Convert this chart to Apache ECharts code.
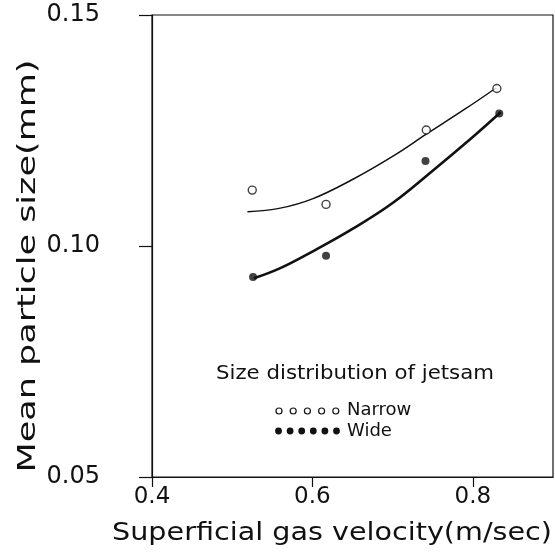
<!DOCTYPE html>
<html>
<head>
<meta charset="utf-8">
<script src="https://cdn.jsdelivr.net/npm/echarts@6/dist/echarts.min.js"></script>
<style>
html, body { margin: 0; padding: 0; background: #fff; }
#chart { width: 555px; height: 553px; }
</style>
</head>
<body>
<div id="chart"></div>
<script>
// tick values
var xTicks = [0.4, 0.6, 0.8];
var yTicks = [0.05, 0.10, 0.15];

// measured points
var narrowX = [0.525, 0.617, 0.742, 0.830];
var narrowY = [0.1121, 0.1090, 0.1251, 0.1341];
var wideX = [0.526, 0.617, 0.741, 0.833];
var wideY = [0.0933, 0.0979, 0.1184, 0.1287];

// fitted curves
var narrowFitX = [0.519, 0.56, 0.60, 0.65, 0.70, 0.742, 0.79, 0.829];
var narrowFitY = [0.1074, 0.1082, 0.1102, 0.1144, 0.1194, 0.1242, 0.1296, 0.1342];
var wideFitX = [0.527, 0.56, 0.60, 0.65, 0.70, 0.75, 0.80, 0.835];
var wideFitY = [0.0930, 0.0952, 0.0988, 0.1037, 0.1093, 0.1163, 0.1236, 0.1290];

var legendTitle = 'Size distribution of jetsam';
var seriesNames = ['Narrow', 'Wide'];

var FONT = 'DejaVu Sans';
var INK = '#111';

function pairs(xs, ys) {
    var out = [];
    for (var i = 0; i < xs.length; i++) {
        out.push([xs[i], ys[i]]);
    }
    return out;
}

// legend decoration: row of small circles before each label
var legendMarks = [];
for (var i = 0; i < 5; i++) {
    legendMarks.push({
        type: 'circle',
        shape: { cx: 279 + i * 14.2, cy: 411, r: 3 },
        style: { fill: '#fff', stroke: INK, lineWidth: 1.2 }
    });
}
for (var j = 0; j < 6; j++) {
    legendMarks.push({
        type: 'circle',
        shape: { cx: 278.5 + j * 11.6, cy: 431, r: 3.4 },
        style: { fill: INK }
    });
}

var mychart = echarts.init(document.getElementById('chart'));
var option = {
    animation: false,
    backgroundColor: '#fff',
    grid: {
        left: 152,
        right: 2,
        top: 15,
        bottom: 76,
        show: true,
        borderColor: INK,
        borderWidth: 1.2
    },
    xAxis: {
        type: 'value',
        min: 0.4,
        max: 0.9,
        axisLine: { show: true, lineStyle: { color: INK, width: 1.2 } },
        axisTick: { show: true, customValues: xTicks, length: 10, lineStyle: { color: INK, width: 1.2 } },
        axisLabel: {
            customValues: xTicks,
            formatter: function (v) { return v.toFixed(1); },
            fontFamily: FONT,
            fontSize: 23,
            color: INK,
            margin: 9
        },
        splitLine: { show: false }
    },
    yAxis: {
        type: 'value',
        min: 0.05,
        max: 0.15,
        interval: 0.05,
        axisLine: { show: true, lineStyle: { color: INK, width: 1.2 } },
        axisTick: { show: true, length: 13, lineStyle: { color: INK, width: 1.2 } },
        axisLabel: {
            formatter: function (v) { return v.toFixed(2); },
            fontFamily: FONT,
            fontSize: 24,
            color: INK,
            margin: 52
        },
        splitLine: { show: false }
    },
    graphic: [
        {
            type: 'text',
            x: 332,
            y: 533,
            scaleX: 1.145,
            style: {
                text: 'Superficial gas velocity(m/sec)',
                font: '25px "' + FONT + '"',
                fill: INK,
                textAlign: 'center',
                textVerticalAlign: 'middle'
            }
        },
        {
            type: 'text',
            x: 28,
            y: 266,
            rotation: Math.PI / 2,
            scaleX: 1.4,
            style: {
                text: 'Mean particle size(mm)',
                font: '25px "' + FONT + '"',
                fill: INK,
                textAlign: 'center',
                textVerticalAlign: 'middle'
            }
        },
        {
            type: 'text',
            x: 355,
            y: 374,
            scaleX: 1.12,
            style: {
                text: legendTitle,
                font: '19px "' + FONT + '"',
                fill: INK,
                textAlign: 'center',
                textVerticalAlign: 'middle'
            }
        },
        {
            type: 'text',
            x: 347,
            y: 410,
            style: {
                text: seriesNames[0],
                font: '18px "' + FONT + '"',
                fill: INK,
                textAlign: 'left',
                textVerticalAlign: 'middle'
            }
        },
        {
            type: 'text',
            x: 347,
            y: 431,
            style: {
                text: seriesNames[1],
                font: '18px "' + FONT + '"',
                fill: INK,
                textAlign: 'left',
                textVerticalAlign: 'middle'
            }
        }
    ].concat(legendMarks),
    series: [
        {
            name: seriesNames[0] + ' fit',
            type: 'line',
            data: pairs(narrowFitX, narrowFitY),
            showSymbol: false,
            smooth: 0.4,
            lineStyle: { color: INK, width: 1.5 },
            z: 2
        },
        {
            name: seriesNames[1] + ' fit',
            type: 'line',
            data: pairs(wideFitX, wideFitY),
            showSymbol: false,
            smooth: 0.4,
            lineStyle: { color: INK, width: 2.6 },
            z: 2
        },
        {
            name: seriesNames[0],
            type: 'scatter',
            data: pairs(narrowX, narrowY),
            symbol: 'circle',
            symbolSize: 8,
            itemStyle: { color: '#fff', borderColor: INK, borderWidth: 1.4 },
            z: 3
        },
        {
            name: seriesNames[1],
            type: 'scatter',
            data: pairs(wideX, wideY),
            symbol: 'circle',
            symbolSize: 8,
            itemStyle: { color: INK },
            z: 3
        }
    ]
};
mychart.setOption(option);
</script>
</body>
</html>
